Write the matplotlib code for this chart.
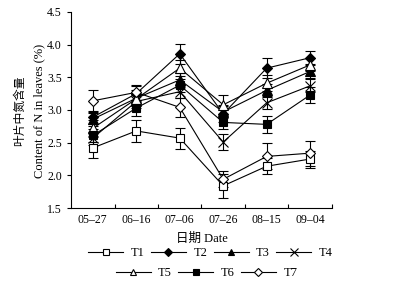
import matplotlib.pyplot as plt
from matplotlib.lines import Line2D

plt.rcParams['font.family'] = ['Liberation Serif', 'Noto Sans CJK SC']

# ---------------------- DATA ----------------------
dates = ["05\u201327", "06\u201316", "07\u201306", "07\u201326", "08\u201315", "09\u201304"]
series = ["T1", "T2", "T3", "T4", "T5", "T6", "T7"]

t1 = [2.42, 2.68, 2.57, 1.84, 2.14, 2.25]
t2 = [2.89, 3.25, 3.86, 2.94, 3.64, 3.80]
t3 = [2.86, 3.18, 3.46, 2.97, 3.30, 3.59]
t4 = [2.57, 3.13, 3.28, 2.51, 3.11, 3.37]
t5 = [2.72, 3.17, 3.64, 3.08, 3.41, 3.69]
t6 = [2.61, 3.03, 3.38, 2.81, 2.78, 3.23]
t7 = [3.14, 3.27, 3.04, 1.94, 2.29, 2.34]

e1 = [0.16, 0.17, 0.16, 0.18, 0.12, 0.13]
e2 = [0.10, 0.12, 0.15, 0.12, 0.15, 0.10]
e3 = [0.10, 0.12, 0.10, 0.10, 0.10, 0.10]
e4 = [0.10, 0.10, 0.10, 0.12, 0.10, 0.10]
e5 = [0.12, 0.10, 0.12, 0.15, 0.12, 0.10]
e6 = [0.10, 0.12, 0.10, 0.10, 0.13, 0.12]
e7 = [0.17, 0.12, 0.15, 0.12, 0.20, 0.19]

values = [t1, t2, t3, t4, t5, t6, t7]
errors = [e1, e2, e3, e4, e5, e6, e7]
markers = [("s", "white"), ("D", "black"), ("^", "black"), ("x", "black"),
           ("^", "white"), ("s", "black"), ("D", "white")]
sizes = [5.5, 5.5, 6.5, 7.5, 6.5, 5.5, 5.5]

fig = plt.figure(figsize=(3.97, 2.91), dpi=100)
ax = fig.add_axes([0.179, 0.285, 0.657, 0.674])

x = list(range(len(dates)))
for name, y, err, (m, fc), ms in zip(series, values, errors, markers, sizes):
    ax.errorbar(x, y, yerr=err, color="black", lw=0.8, marker=m, ms=ms,
                mfc=fc, mec="black", mew=0.8, capsize=3.5, elinewidth=0.8,
                capthick=0.8, label=name)

ax.set_xlim(-0.5, 5.5)
ax.set_ylim(1.5, 4.5)
ax.set_yticks([1.5, 2.0, 2.5, 3.0, 3.5, 4.0, 4.5])
ax.set_xticks(x)
ax.set_xticklabels(dates)
ax.set_xticks([i + 0.5 for i in range(6)], minor=True)
ax.tick_params(axis="x", which="major", length=0, labelsize=8.5, pad=4)
ax.tick_params(axis="x", which="minor", direction="in", length=3, width=0.8)
ax.tick_params(axis="y", direction="out", length=3, width=0.8, labelsize=8.5)
for s in ["top", "right"]:
    ax.spines[s].set_visible(False)
for s in ["left", "bottom"]:
    ax.spines[s].set_linewidth(0.8)

ax.set_xlabel("日期 Date", fontsize=9, labelpad=5)
fig.text(0.050, 0.62, "叶片中氮含量", rotation=90, ha="center", va="center",
         fontsize=8.5)
fig.text(0.100, 0.62, "Content of N in leaves (%)", rotation=90,
         ha="center", va="center", fontsize=9)

handles = []
for name, (m, fc), ms in zip(series, markers, sizes):
    handles.append(Line2D([], [], color="black", lw=0.8, marker=m, ms=ms * 0.75,
                          mfc=fc, mec="black", mew=0.8, label=name))

common = dict(frameon=False, fontsize=9, handlelength=2.8, handletextpad=0.6,
              columnspacing=0.5, borderpad=0)
fig.legend(handles=handles[:4], ncol=4, loc="center",
           bbox_to_anchor=(0.53, 1 - 253 / 291), **common)
fig.legend(handles=handles[4:], ncol=3, loc="center",
           bbox_to_anchor=(0.52, 1 - 273 / 291), **common)

fig.savefig("out.png", dpi=100)
